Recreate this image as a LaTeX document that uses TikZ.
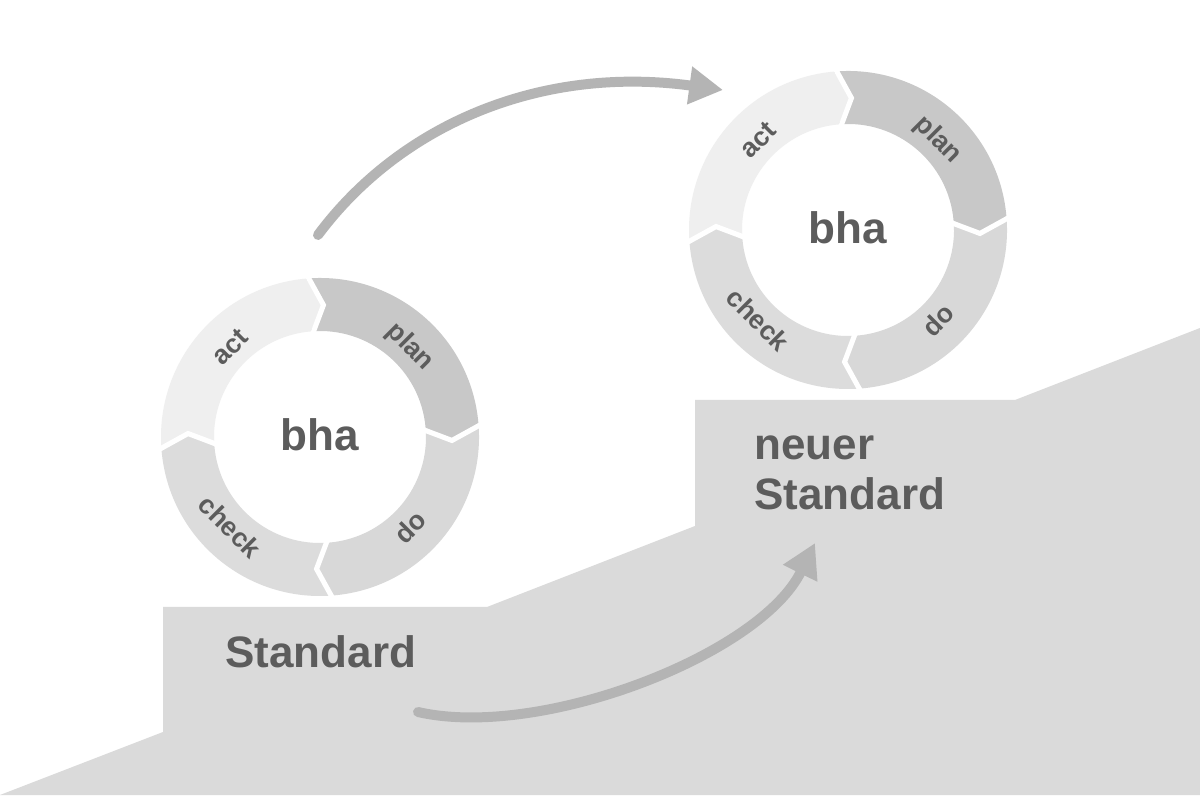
\documentclass[tikz,border=0pt]{standalone}
\usepackage{fontspec}
\setmainfont{Liberation Sans}
\usetikzlibrary{arrows.meta}
\definecolor{bhastair}{HTML}{DADADA}
\definecolor{bhaact}{HTML}{EFEFEF}
\definecolor{bhaplan}{HTML}{C8C8C8}
\definecolor{bhado}{HTML}{D8D8D8}
\definecolor{bhacheck}{HTML}{DCDCDC}
\definecolor{bhatext}{HTML}{5C5C5C}
\definecolor{bhaarrow}{HTML}{B4B4B4}

% one PDCA ring: #1 = name prefix, #2 = centre
\newcommand\bharing[2]{%
  \begin{scope}[shift={#2}]
    \foreach \ga/\gb/\col in {185/95/bhaact, 95/5/bhaplan, 5/-85/bhado, -85/-175/bhacheck}
      \fill[\col] (\ga:159) arc[start angle=\ga, end angle=\gb, radius=159]
        -- (\gb-6.5:132) -- (\gb:106) arc[start angle=\gb, end angle=\ga, radius=106]
        -- (\ga-6.5:132) -- cycle;
    \foreach \g in {95,5,-85,-175}
      \draw[gapline] (\g:165) -- (\g-6.5:132) -- (\g:100);
    \node[ringlbl, rotate=45]  (#1act)   at (135:127)  {act};
    \node[ringlbl, rotate=-45] (#1plan)  at (45:127)   {plan};
    \node[ringlbl, rotate=45]  (#1do)    at (-45:127)  {do};
    \node[ringlbl, rotate=-45] (#1check) at (-135:127) {check};
    \node[bigtxt, anchor=base] (#1bha) at (0,-14) {bha};
  \end{scope}}

\begin{document}
\begin{tikzpicture}[
      x=0.025cm, y=0.025cm,
      bigtxt/.style={font=\bfseries\fontsize{31.3}{36}\selectfont, text=bhatext, inner sep=0pt},
      ringlbl/.style={font=\bfseries\fontsize{19}{22}\selectfont, text=bhatext, inner sep=0pt},
      gapline/.style={white, line width=3.6pt, line join=miter},
      flow/.style={draw=bhaarrow, line width=7.1pt, line cap=round, -{Triangle[width=25.6pt, length=24pt]}}
    ]
    \useasboundingbox (0,0) rectangle (1200,795);
    \fill[white] (0,0) rectangle (1200,795);

    % staircase
    \fill[bhastair] (0,0) -- (163,63) -- (163,188) -- (487,188) -- (695,269)
      -- (695,395) -- (1015,395) -- (1200,467) -- (1200,0) -- cycle;

    \bharing{low}{(320,358)}
    \bharing{high}{(848,565)}

    \node[bigtxt, anchor=base west] (std)    at (225,128) {Standard};
    \node[bigtxt, anchor=base west] (neuer)  at (754,335) {neuer};
    \node[bigtxt, anchor=base west] (newstd) at (754,285) {Standard};

    \coordinate (up0) at (318,560);
    \coordinate (up1) at (723,705);
    \coordinate (lo0) at (418,83);
    \coordinate (lo1) at (815,252);
    \draw[flow] (up0) .. controls (400,670) and (540,730) .. (up1);
    \draw[flow] (lo0) .. controls (540,55) and (760,140) .. (lo1);
  \end{tikzpicture}
\end{document}
